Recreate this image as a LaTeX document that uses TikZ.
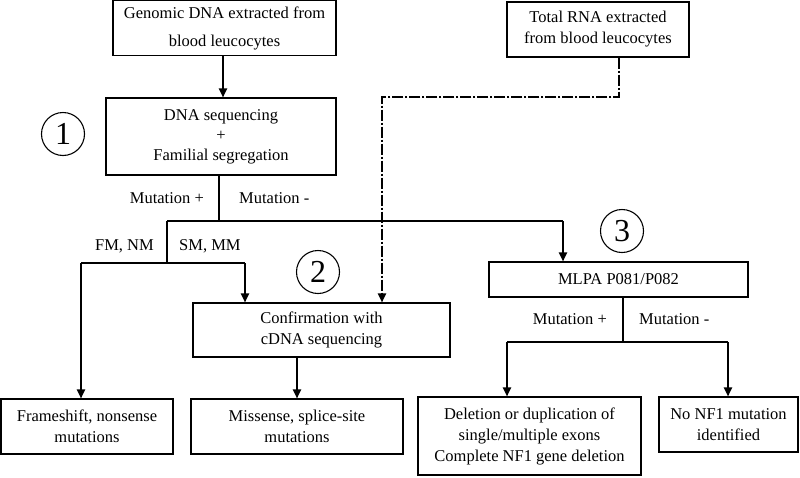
\documentclass[tikz,border=0pt]{standalone}
\usepackage{fontspec}
\setmainfont{Liberation Serif}
\usetikzlibrary{arrows.meta,calc}

\begin{document}
\begin{tikzpicture}[
  x=1pt, y=-1pt,
  font=\fontsize{16.5}{21}\selectfont,
  >={Triangle[length=9pt,width=8pt]},
  box/.style={draw, line width=1.1pt, align=center, inner sep=2pt},
  num/.style={draw, circle, line width=1.1pt, minimum size=43pt, inner sep=0pt,
    font=\fontsize{32}{32}\selectfont},
  lbl/.style={inner sep=1pt},
  arr/.style={->, line width=1.9pt},
  wire/.style={line width=1.2pt},
  rnaline/.style={line width=1.9pt, dash pattern=on 11pt off 2pt on 2pt off 2pt},
]
\useasboundingbox (0,0) rectangle (800,477);
% Grid: branch rows y=221 (after DNA sequencing), 263 (FM/SM), 342 (after MLPA);
% the RNA line turns at y=97 and comes down at x=382.
\def\ysplit{221}
\def\yfmsm{263}
\def\ymlpa{342}
\def\yrna{97}
\def\xrna{382}

% --- Step 1: genomic DNA ---------------------------------------------------
\node[box, minimum width=223pt, minimum height=55pt] (genomic) at (224.5, 28)
  {Genomic DNA extracted from\\[7pt]blood leucocytes};
\node[box, minimum width=230pt, minimum height=77pt] (dnaseq) at (221, 136.5)
  {DNA sequencing\\[-1pt]+\\[-1pt]Familial segregation};
\node[num] (one) at (63, 134) {1};
\draw[arr] (genomic.south -| 223,0) -- (223, 0 |- dnaseq.north);

% --- RNA (top right) -------------------------------------------------------
\node[box, minimum width=182pt, minimum height=55pt] (rna) at (598, 29.5)
  {Total RNA extracted\\from blood leucocytes};

% --- Branching after DNA sequencing ----------------------------------------
\coordinate (jmid) at (219, \ysplit);
\coordinate (jleft) at (167, \ysplit);
\coordinate (jright) at (563, \ysplit);
\draw[wire] (dnaseq.south -| jmid) -- (jmid);
\node[lbl, anchor=east] (mutp) at (205, 198) {Mutation +};
\node[lbl, anchor=west] (mutm) at (238, 198) {Mutation -};
\draw[wire] (jleft) -- (jright);

\coordinate (jfm) at (167, \yfmsm);
\coordinate (fmleft) at (81, \yfmsm);
\coordinate (smright) at (245, \yfmsm);
\draw[wire] (jleft) -- (jfm);
\draw[wire] (fmleft) -- (smright);
\node[lbl, anchor=east] (fmnm) at (155, 246) {FM, NM};
\node[lbl, anchor=west] (smmm) at (178, 246) {SM, MM};

% --- Step 2: cDNA confirmation ---------------------------------------------
\node[box, minimum width=257pt, minimum height=54pt] (confirm) at (321.5, 330)
  {Confirmation with\\cDNA sequencing};
\node[num] (two) at (318, 272) {2};
\draw[arr] (smright) -- (smright |- confirm.north);
\draw[rnaline, ->] (rna.south -| 619,0) -- (619, \yrna) -- (\xrna, \yrna)
  -- (\xrna, 0 |- confirm.north);

% --- Step 3: MLPA ----------------------------------------------------------
\node[box, minimum width=259pt, minimum height=35pt] (mlpa) at (618.5, 279.5)
  {MLPA P081/P082};
\node[num] (three) at (622, 231) {3};
\draw[arr] (jright) -- (jright |- mlpa.north);

\coordinate (jmlpa) at (623, \ymlpa);
\coordinate (delleft) at (507, \ymlpa);
\coordinate (noright) at (728, \ymlpa);
\draw[wire] (mlpa.south -| jmlpa) -- (jmlpa);
\draw[wire] (delleft) -- (noright);
\node[lbl, anchor=east] (mutp2) at (608, 319) {Mutation +};
\node[lbl, anchor=west] (mutm2) at (638, 319) {Mutation -};

% --- Outcomes (bottom row) -------------------------------------------------
\node[box, minimum width=172pt, minimum height=55pt] (frame) at (87, 426.5)
  {Frameshift, nonsense\\mutations};
\node[box, minimum width=212pt, minimum height=55pt] (missense) at (297, 426.5)
  {Missense, splice-site\\mutations};
\node[box, minimum width=223pt, minimum height=78pt] (deletion) at (529.5, 436)
  {Deletion or duplication of\\single/multiple exons\\Complete NF1 gene deletion};
\node[box, minimum width=139pt, minimum height=55pt] (nonf1) at (728.5, 424.5)
  {No NF1 mutation\\identified};

\draw[arr] (fmleft) -- (fmleft |- frame.north);
\draw[arr] (missense.north |- confirm.south) -- (missense.north);
\draw[arr] (delleft) -- (delleft |- deletion.north);
\draw[arr] (noright) -- (noright |- nonf1.north);

\end{tikzpicture}
\end{document}
